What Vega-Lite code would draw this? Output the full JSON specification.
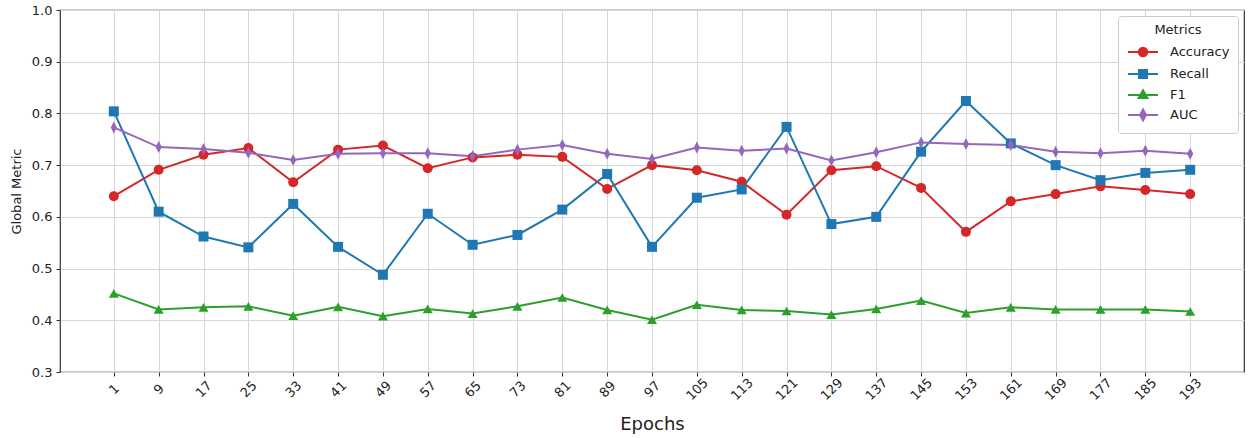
{
  "$schema": "https://vega.github.io/schema/vega-lite/v6.json",
  "width": 1184,
  "height": 362,
  "autosize": {"type": "none"},
  "padding": {"left": 60, "top": 10, "right": 4, "bottom": 66},
  "background": "white",
  "config": {
    "font": "DejaVu Sans",
    "view": {"stroke": "#333333", "strokeWidth": 1.2},
    "axis": {
      "gridColor": "#d6d6d6",
      "gridWidth": 1,
      "domain": false,
      "tickColor": "#333333",
      "tickSize": 4,
      "labelFont": "DejaVu Sans",
      "labelFontSize": 13,
      "labelColor": "#222222",
      "titleFont": "DejaVu Sans",
      "titleFontWeight": "normal",
      "titleColor": "#222222"
    }
  },
  "data": {
    "values": [
      {"epoch": 1, "metric": "Accuracy", "value": 0.640},
      {"epoch": 9, "metric": "Accuracy", "value": 0.691},
      {"epoch": 17, "metric": "Accuracy", "value": 0.720},
      {"epoch": 25, "metric": "Accuracy", "value": 0.733},
      {"epoch": 33, "metric": "Accuracy", "value": 0.667},
      {"epoch": 41, "metric": "Accuracy", "value": 0.730},
      {"epoch": 49, "metric": "Accuracy", "value": 0.738},
      {"epoch": 57, "metric": "Accuracy", "value": 0.694},
      {"epoch": 65, "metric": "Accuracy", "value": 0.715},
      {"epoch": 73, "metric": "Accuracy", "value": 0.720},
      {"epoch": 81, "metric": "Accuracy", "value": 0.716},
      {"epoch": 89, "metric": "Accuracy", "value": 0.654},
      {"epoch": 97, "metric": "Accuracy", "value": 0.700},
      {"epoch": 105, "metric": "Accuracy", "value": 0.690},
      {"epoch": 113, "metric": "Accuracy", "value": 0.668},
      {"epoch": 121, "metric": "Accuracy", "value": 0.604},
      {"epoch": 129, "metric": "Accuracy", "value": 0.690},
      {"epoch": 137, "metric": "Accuracy", "value": 0.698},
      {"epoch": 145, "metric": "Accuracy", "value": 0.656},
      {"epoch": 153, "metric": "Accuracy", "value": 0.571},
      {"epoch": 161, "metric": "Accuracy", "value": 0.630},
      {"epoch": 169, "metric": "Accuracy", "value": 0.644},
      {"epoch": 177, "metric": "Accuracy", "value": 0.659},
      {"epoch": 185, "metric": "Accuracy", "value": 0.652},
      {"epoch": 193, "metric": "Accuracy", "value": 0.644},
      {"epoch": 1, "metric": "Recall", "value": 0.804},
      {"epoch": 9, "metric": "Recall", "value": 0.610},
      {"epoch": 17, "metric": "Recall", "value": 0.562},
      {"epoch": 25, "metric": "Recall", "value": 0.541},
      {"epoch": 33, "metric": "Recall", "value": 0.625},
      {"epoch": 41, "metric": "Recall", "value": 0.542},
      {"epoch": 49, "metric": "Recall", "value": 0.488},
      {"epoch": 57, "metric": "Recall", "value": 0.606},
      {"epoch": 65, "metric": "Recall", "value": 0.546},
      {"epoch": 73, "metric": "Recall", "value": 0.565},
      {"epoch": 81, "metric": "Recall", "value": 0.614},
      {"epoch": 89, "metric": "Recall", "value": 0.683},
      {"epoch": 97, "metric": "Recall", "value": 0.542},
      {"epoch": 105, "metric": "Recall", "value": 0.637},
      {"epoch": 113, "metric": "Recall", "value": 0.653},
      {"epoch": 121, "metric": "Recall", "value": 0.774},
      {"epoch": 129, "metric": "Recall", "value": 0.586},
      {"epoch": 137, "metric": "Recall", "value": 0.600},
      {"epoch": 145, "metric": "Recall", "value": 0.726},
      {"epoch": 153, "metric": "Recall", "value": 0.824},
      {"epoch": 161, "metric": "Recall", "value": 0.742},
      {"epoch": 169, "metric": "Recall", "value": 0.700},
      {"epoch": 177, "metric": "Recall", "value": 0.671},
      {"epoch": 185, "metric": "Recall", "value": 0.685},
      {"epoch": 193, "metric": "Recall", "value": 0.691},
      {"epoch": 1, "metric": "F1", "value": 0.452},
      {"epoch": 9, "metric": "F1", "value": 0.421},
      {"epoch": 17, "metric": "F1", "value": 0.425},
      {"epoch": 25, "metric": "F1", "value": 0.427},
      {"epoch": 33, "metric": "F1", "value": 0.409},
      {"epoch": 41, "metric": "F1", "value": 0.426},
      {"epoch": 49, "metric": "F1", "value": 0.408},
      {"epoch": 57, "metric": "F1", "value": 0.422},
      {"epoch": 65, "metric": "F1", "value": 0.413},
      {"epoch": 73, "metric": "F1", "value": 0.427},
      {"epoch": 81, "metric": "F1", "value": 0.444},
      {"epoch": 89, "metric": "F1", "value": 0.420},
      {"epoch": 97, "metric": "F1", "value": 0.401},
      {"epoch": 105, "metric": "F1", "value": 0.430},
      {"epoch": 113, "metric": "F1", "value": 0.420},
      {"epoch": 121, "metric": "F1", "value": 0.418},
      {"epoch": 129, "metric": "F1", "value": 0.411},
      {"epoch": 137, "metric": "F1", "value": 0.422},
      {"epoch": 145, "metric": "F1", "value": 0.438},
      {"epoch": 153, "metric": "F1", "value": 0.414},
      {"epoch": 161, "metric": "F1", "value": 0.425},
      {"epoch": 169, "metric": "F1", "value": 0.421},
      {"epoch": 177, "metric": "F1", "value": 0.421},
      {"epoch": 185, "metric": "F1", "value": 0.421},
      {"epoch": 193, "metric": "F1", "value": 0.417},
      {"epoch": 1, "metric": "AUC", "value": 0.773},
      {"epoch": 9, "metric": "AUC", "value": 0.735},
      {"epoch": 17, "metric": "AUC", "value": 0.731},
      {"epoch": 25, "metric": "AUC", "value": 0.724},
      {"epoch": 33, "metric": "AUC", "value": 0.710},
      {"epoch": 41, "metric": "AUC", "value": 0.722},
      {"epoch": 49, "metric": "AUC", "value": 0.723},
      {"epoch": 57, "metric": "AUC", "value": 0.723},
      {"epoch": 65, "metric": "AUC", "value": 0.717},
      {"epoch": 73, "metric": "AUC", "value": 0.730},
      {"epoch": 81, "metric": "AUC", "value": 0.739},
      {"epoch": 89, "metric": "AUC", "value": 0.722},
      {"epoch": 97, "metric": "AUC", "value": 0.712},
      {"epoch": 105, "metric": "AUC", "value": 0.734},
      {"epoch": 113, "metric": "AUC", "value": 0.728},
      {"epoch": 121, "metric": "AUC", "value": 0.732},
      {"epoch": 129, "metric": "AUC", "value": 0.709},
      {"epoch": 137, "metric": "AUC", "value": 0.725},
      {"epoch": 145, "metric": "AUC", "value": 0.744},
      {"epoch": 153, "metric": "AUC", "value": 0.741},
      {"epoch": 161, "metric": "AUC", "value": 0.739},
      {"epoch": 169, "metric": "AUC", "value": 0.726},
      {"epoch": 177, "metric": "AUC", "value": 0.723},
      {"epoch": 185, "metric": "AUC", "value": 0.728},
      {"epoch": 193, "metric": "AUC", "value": 0.722}
    ]
  },
  "encoding": {
    "x": {
      "field": "epoch",
      "type": "quantitative",
      "scale": {"domain": [-8.6, 202.6], "nice": false, "zero": false},
      "axis": {
        "values": [1, 9, 17, 25, 33, 41, 49, 57, 65, 73, 81, 89, 97, 105, 113, 121, 129, 137, 145, 153, 161, 169, 177, 185, 193],
        "title": "Epochs",
        "titleFontSize": 18,
        "titlePadding": 13,
        "labelAngle": -45,
        "labelAlign": "center",
        "labelBaseline": "middle",
        "labelPadding": 13,
        "labelOverlap": false,
        "labelFlush": false
      }
    },
    "y": {
      "field": "value",
      "type": "quantitative",
      "scale": {"domain": [0.3, 1.0], "nice": false, "zero": false},
      "axis": {
        "values": [0.3, 0.4, 0.5, 0.6, 0.7, 0.8, 0.9, 1.0],
        "format": ".1f",
        "title": "Global Metric",
        "titleFontSize": 13,
        "titlePadding": 8,
        "labelPadding": 4,
        "labelFlush": false
      }
    },
    "color": {
      "field": "metric",
      "type": "nominal",
      "scale": {
        "domain": ["Accuracy", "Recall", "F1", "AUC"],
        "range": ["#d62728", "#1f77b4", "#2ca02c", "#9467bd"]
      },
      "legend": {
        "title": "Metrics",
        "orient": "top-right",
        "offset": 6,
        "padding": 8,
        "fillColor": "white",
        "strokeColor": "#cccccc",
        "cornerRadius": 3,
        "titleFont": "DejaVu Sans",
        "titleFontSize": 13,
        "titleFontWeight": "normal",
        "titleColor": "#222222",
        "titleAnchor": "middle",
        "titlePadding": 4,
        "labelFont": "DejaVu Sans",
        "labelFontSize": 13,
        "labelColor": "#222222",
        "labelOffset": 16,
        "symbolSize": 400,
        "rowPadding": 2,
        "symbolOffset": 6,
        "encode": {
          "symbols": {
            "update": {
              "shape": {"signal": "datum.value === 'Accuracy' ? 'M-1.5,0H1.5M0.42,0A0.42,0.42 0 1 1 -0.42,0A0.42,0.42 0 1 1 0.42,0Z' : datum.value === 'Recall' ? 'M-1.5,0H1.5M-0.4,-0.4H0.4V0.4H-0.4Z' : datum.value === 'F1' ? 'M-1.5,0H1.5M0,-0.47L0.44,0.3L-0.44,0.3Z' : 'M-1.5,0H1.5M0,-0.55L0.3,0L0,0.55L-0.3,0Z'"},
              "fill": {"scale": "color", "field": "value"},
              "stroke": {"scale": "color", "field": "value"},
              "strokeWidth": {"value": 2},
              "opacity": {"value": 1},
              "fillOpacity": {"value": 1}
            }
          }
        }
      }
    }
  },
  "layer": [
    {
      "mark": {"type": "line", "strokeWidth": 2}
    },
    {
      "mark": {"type": "point", "filled": true, "opacity": 1, "size": 100},
      "encoding": {
        "shape": {
          "field": "metric",
          "type": "nominal",
          "scale": {
            "domain": ["Recall", "Accuracy", "F1", "AUC"],
            "range": ["square", "circle", "triangle-up", "M0,-1.2L0.62,0L0,1.2L-0.62,0Z"]
          },
          "legend": null
        }
      }
    }
  ]
}
